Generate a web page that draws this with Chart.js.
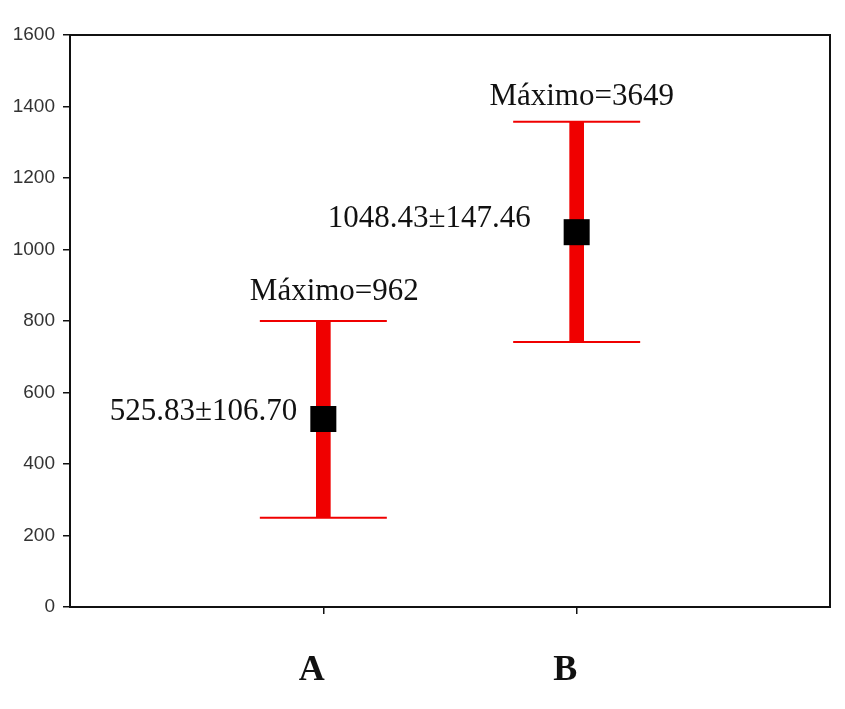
<!DOCTYPE html>
<html><head><meta charset="utf-8">
<script src="https://cdn.jsdelivr.net/npm/chart.js@4.4.1/dist/chart.umd.min.js"></script>
<style>html,body{margin:0;padding:0;background:#fff;}</style>
</head><body>
<canvas id="c" width="845" height="709"></canvas>
<script>
// ---- data ----
const categories = ['A', 'B'];
const means = [525.83, 1048.43];
const sds = [106.70, 147.46];
const lows = [250, 741];
const highs = [800, 1357];
const maxima = [962, 3649];
const yMin = 0, yMax = 1600, yStep = 200;

const RED = '#f00000';
const INK = '#111111';

const framePlugin = {
  id: 'frame',
  afterDraw(chart) {
    const {ctx, chartArea: a} = chart;
    ctx.save();
    ctx.strokeStyle = INK;
    ctx.lineWidth = 2;
    ctx.strokeRect(a.left, a.top, a.right - a.left, a.bottom - a.top);
    ctx.restore();
  }
};

const annotPlugin = {
  id: 'annot',
  afterDatasetsDraw(chart, args, opts) {
    const {ctx, scales: {x, y}} = chart;
    ctx.save();
    ctx.font = '31px "Liberation Serif", "Times New Roman", serif';
    ctx.fillStyle = INK;
    ctx.textBaseline = 'alphabetic';
    categories.forEach((c, i) => {
      const px = x.getPixelForValue(i + 1);
      ctx.textAlign = 'center';
      ctx.fillText('Máximo=' + maxima[i], px + opts.maxDx[i], y.getPixelForValue(highs[i]) + opts.maxDy[i]);
      ctx.textAlign = 'right';
      ctx.fillText(means[i].toFixed(2) + '±' + sds[i].toFixed(2), px + opts.meanDx[i], y.getPixelForValue(means[i]) + opts.meanDy[i]);
    });
    ctx.restore();
  }
};

new Chart(document.getElementById('c'), {
  type: 'scatter',
  data: {
    datasets: [
      {
        type: 'bar',
        data: categories.map((c, i) => ({x: i + 1, y: [lows[i], highs[i]]})),
        backgroundColor: RED,
        borderWidth: 0,
        barThickness: 14,
        order: 3
      },
      {
        type: 'scatter',
        data: categories.flatMap((c, i) => [{x: i + 1, y: lows[i]}, {x: i + 1, y: highs[i]}]),
        pointStyle: 'line',
        pointRadius: 63.5,
        borderColor: RED,
        borderWidth: 2,
        order: 2
      },
      {
        type: 'scatter',
        data: categories.map((c, i) => ({x: i + 1, y: means[i]})),
        pointStyle: 'rect',
        pointRadius: 18.4,
        backgroundColor: '#000',
        borderWidth: 0,
        order: 1
      }
    ]
  },
  options: {
    responsive: false,
    animation: false,
    devicePixelRatio: 1,
    layout: {autoPadding: false, padding: {top: 35, right: 15, left: 0, bottom: 0}},
    plugins: {
      legend: {display: false},
      tooltip: {enabled: false},
      annot: {maxDx: [11, 5], maxDy: [-21, -17], meanDx: [-26, -46], meanDy: [1, -5]}
    },
    scales: {
      x: {
        type: 'linear',
        offset: false,
        min: 0, max: categories.length + 1,
        afterBuildTicks: axis => { axis.ticks = categories.map((c, i) => ({value: i + 1})); },
        afterFit: axis => { axis.height = 102; },
        grid: {offset: false, drawOnChartArea: false, drawTicks: true, tickLength: 7, color: INK, lineWidth: 1.5},
        border: {display: true, color: INK, width: 2},
        ticks: {
          callback: v => categories[v - 1] || '',
          font: {family: '"Liberation Serif", "Times New Roman", serif', size: 36, weight: 'bold'},
          color: INK,
          padding: 35,
          labelOffset: -11.5,
          maxRotation: 0,
          autoSkip: false
        }
      },
      y: {
        type: 'linear',
        min: yMin, max: yMax,
        afterFit: axis => { axis.width = 70; },
        grid: {drawOnChartArea: false, drawTicks: true, tickLength: 7, color: INK, lineWidth: 1.5},
        border: {display: true, color: INK, width: 2},
        ticks: {
          stepSize: yStep,
          callback: v => String(v),
          font: {family: '"Liberation Sans", Arial, sans-serif', size: 19},
          color: '#333',
          padding: 8
        }
      }
    }
  },
  plugins: [framePlugin, annotPlugin]
});
</script>
</body></html>
